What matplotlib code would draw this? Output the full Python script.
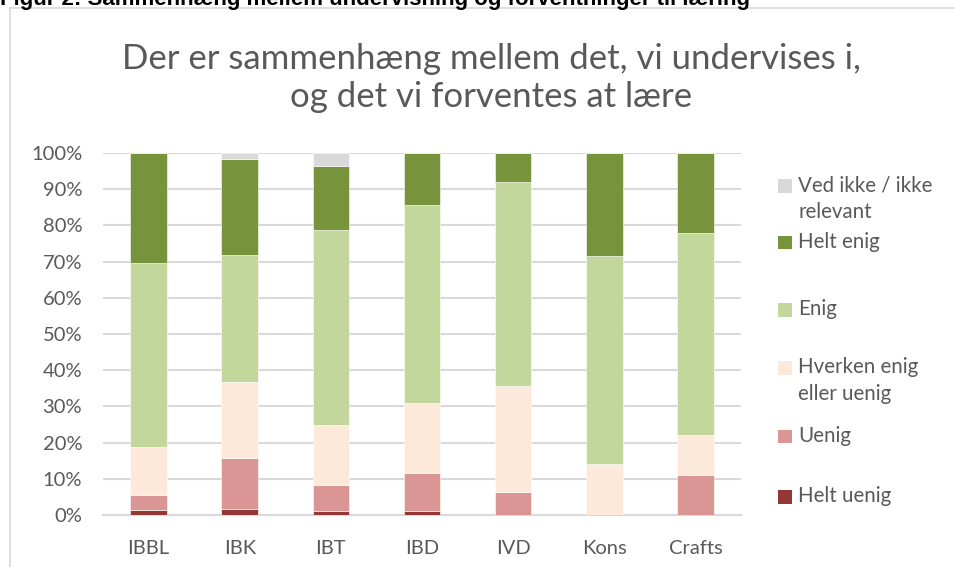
import matplotlib
matplotlib.use("Agg")
import matplotlib.pyplot as plt
from matplotlib.patches import Rectangle
from matplotlib.lines import Line2D
import numpy as np

categories = ["IBBL", "IBK", "IBT", "IBD", "IVD", "Kons", "Crafts"]
series_names = ["Helt uenig", "Uenig", "Hverken enig\neller uenig", "Enig", "Helt enig", "Ved ikke / ikke\nrelevant"]
helt_uenig = [1.3, 1.7, 1.1, 1.1, 0.0, 0.0, 0.0]
uenig      = [4.3, 14.0, 7.1, 10.6, 6.4, 0.0, 11.0]
hverken    = [13.2, 21.1, 16.7, 19.2, 29.1, 14.2, 11.1]
enig       = [50.7, 35.1, 53.7, 54.8, 56.4, 57.3, 55.7]
helt_enig  = [30.5, 26.4, 17.8, 14.3, 8.1, 28.5, 22.2]
ved_ikke   = [0.0, 1.7, 3.6, 0.0, 0.0, 0.0, 0.0]
colors = ["#953735", "#D99694", "#FDE9D9", "#C3D69B", "#77933C", "#D9D9D9"]
yticks = [0, 10, 20, 30, 40, 50, 60, 70, 80, 90, 100]
ytick_labels = [f"{v}%" for v in yticks]
title = "Der er sammenhæng mellem det, vi undervises i,\nog det vi forventes at lære"
caption = "Figur 2: Sammenhæng mellem undervisning og forventninger til læring"

W, H = 955, 567
fig = plt.figure(figsize=(W / 100, H / 100), dpi=100)
FONT = "Lato"
TXT = "#595959"
GRID = "#D9D9D9"

def fx(px):
    return px / W

def fy(py):
    return 1 - py / H

# chart border
fig.add_artist(Line2D([fx(10), fx(10)], [fy(8), fy(567)], color=GRID, lw=1.2))
fig.add_artist(Line2D([fx(10), fx(955)], [fy(8), fy(8)], color=GRID, lw=1.2))

# caption (partially cut off at top, as in the reference)
fig.text(fx(0), fy(5), caption, fontfamily="Liberation Sans", fontweight="bold",
         fontsize=16, color="black", va="baseline", ha="left")

# axes
left, right, top, bottom = 103, 741, 153, 515
ax = fig.add_axes([fx(left), fy(bottom), fx(right - left), (bottom - top) / H])
series = [helt_uenig, uenig, hverken, enig, helt_enig, ved_ikke]
x = np.arange(len(categories))
base = np.zeros(len(categories))
for vals, c in zip(series, colors):
    v = np.array(vals)
    ax.bar(x, v, bottom=base, width=0.4, color=c, edgecolor="white", linewidth=0.4, zorder=3)
    base += v

ax.set_xlim(-0.5, len(categories) - 0.5)
ax.set_ylim(0, 100)
ax.set_yticks(yticks)
ax.set_yticklabels(ytick_labels)
ax.set_xticks(x)
ax.set_xticklabels(categories)
ax.yaxis.grid(True, color=GRID, lw=1.5, zorder=0)
ax.set_axisbelow(True)
for s in ["left", "right", "top"]:
    ax.spines[s].set_visible(False)
ax.spines["bottom"].set_color(GRID)
ax.spines["bottom"].set_linewidth(1.5)
ax.tick_params(axis="both", length=0, labelsize=14.5, labelcolor=TXT)
ax.tick_params(axis="y", pad=15)
ax.tick_params(axis="x", pad=18)
for lab in ax.get_xticklabels() + ax.get_yticklabels():
    lab.set_fontfamily(FONT)

# title
fig.text(fx(491), fy(78), title, fontfamily=FONT, fontsize=25, color=TXT,
         ha="center", va="center", linespacing=1.2)

# legend (manual, top to bottom)
legend_order = [5, 4, 3, 2, 1, 0]
patch_centers = [186, 242.7, 310, 368, 436.5, 497]
for idx, cy in zip(legend_order, patch_centers):
    fig.add_artist(Rectangle((fx(778), fy(cy + 6.5)), fx(13.5), 13.5 / H,
                             facecolor=colors[idx], edgecolor="none"))
    fig.text(fx(798), fy(cy - 11), series_names[idx], fontfamily=FONT, fontsize=14.8,
             color=TXT, ha="left", va="top", linespacing=1.45)

fig.savefig("out.png", dpi=100)
